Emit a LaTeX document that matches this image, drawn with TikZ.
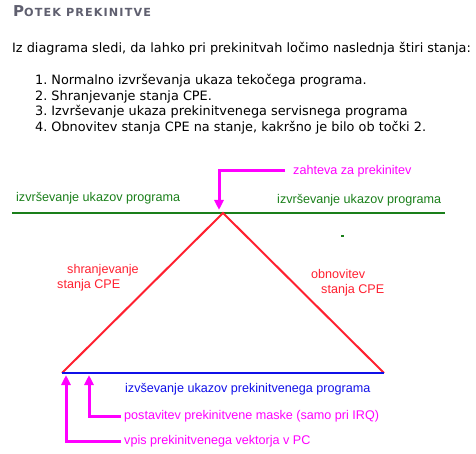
\documentclass[tikz,border=0pt]{standalone}
\usepackage{fontspec}
\setmainfont{DejaVu Sans}
\newfontfamily\labelfont{Liberation Sans}
\newfontfamily\titlefont[LetterSpace=10]{DejaVu Sans}
\usetikzlibrary{arrows.meta,positioning}
\definecolor{prog}{HTML}{1A7F1A}
\definecolor{isr}{HTML}{1010E8}
\definecolor{save}{HTML}{FF2030}
\definecolor{req}{HTML}{FF00FF}
\definecolor{head}{HTML}{5F5F6F}

\begin{document}
\begin{tikzpicture}[x=1pt,y=-1pt,
              txt/.style={inner sep=0,anchor=base west,font=\fontsize{12.85}{15}\selectfont},
              lbl/.style={inner sep=0,font=\labelfont\fontsize{12.6}{15}\selectfont},
              flow/.style={line width=2pt},
              ptr/.style={draw=req,line width=3pt,-{Triangle[length=10pt,width=9pt]}}]
              \useasboundingbox (0,0) rectangle (476,454);
              % heading and list
              \node[txt,text=head] (title) at (13,17)
                {\titlefont\bfseries{\fontsize{15}{15}\selectfont P}\fontsize{11.2}{15}\selectfont OTEK PREKINITVE};
              \node[txt] (intro) at (12,52.3) {Iz diagrama sledi, da lahko pri prekinitvah ločimo naslednja štiri stanja:};
              \node[txt] (s1) at (35,84.7) {1.\hspace{4pt}Normalno izvrševanja ukaza tekočega programa.};
              \node[txt] (s2) at (35,100.3) {2.\hspace{4pt}Shranjevanje stanja CPE.};
              \node[txt] (s3) at (35,115.9) {3.\hspace{4pt}Izvrševanje ukaza prekinitvenega servisnega programa};
              \node[txt] (s4) at (35,131.5) {4.\hspace{4pt}Obnovitev stanja CPE na stanje, kakršno je bilo ob točki 2.};
              % corners of the diagram
              \coordinate (gL) at (12,213);
              \coordinate (gR) at (445,213);
              \coordinate (top) at (223,213);
              \coordinate (bL) at (62,373);
              \coordinate (bR) at (384,373);
              \coordinate (hit) at (219,210);
              \coordinate (mk) at (89,375);
              \coordinate (vc) at (66,375);
              % labels
              \node[lbl,anchor=base west,text=prog] (runL) at (16,202) {izvrševanje ukazov programa};
              \node[lbl,anchor=base west,text=prog] (runR) at (277,204) {izvrševanje ukazov programa};
              \node[lbl,anchor=west,text=req,inner xsep=8pt] (irq) at (285,171) {zahteva za prekinitev};
              \node[lbl,anchor=north west,align=left,text=save] (push) at (57,264)
                {\hspace*{10pt}shranjevanje\\stanja CPE};
              \node[lbl,anchor=north west,align=left,text=save] (pop) at (311,269)
                {obnovitev\\\hspace*{10pt}stanja CPE};
              \node[lbl,anchor=base west,text=isr] (isrrun) at (125,392) {izvševanje ukazov prekinitvenega programa};
              \node[lbl,anchor=west,text=req,inner xsep=3pt] (mask) at (121,416) {postavitev prekinitvene maske (samo pri IRQ)};
              \node[lbl,anchor=west,text=req,inner xsep=3pt] (vec) at (121,441) {vpis prekinitvenega vektorja v PC};
              % lines
              \draw[flow,prog] (gL) -- (gR);
              \draw[flow,save] (bL) -- (top) -- (bR);
              \draw[flow,isr,line width=2.5pt] (bL) -- (bR);
              \fill[prog] (341,235.5) rectangle (343.5,236.8);
              \draw[ptr] (irq.west) -| (hit);
              \draw[ptr] (mask.west) -| (mk);
              \draw[ptr] (vec.west) -| (vc);
            \end{tikzpicture}
\end{document}
